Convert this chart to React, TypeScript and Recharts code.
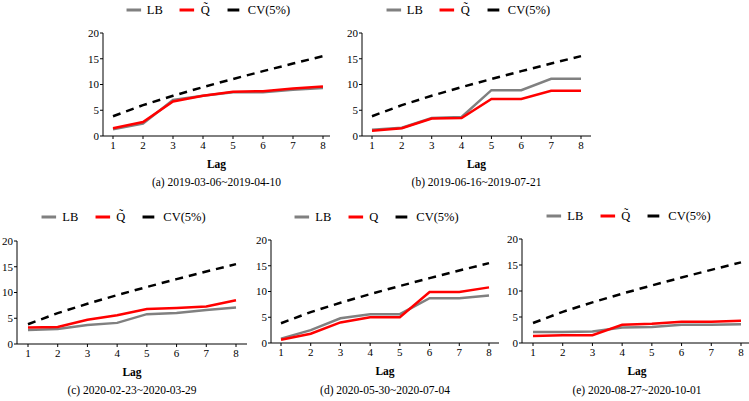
import React from 'react';
import { LineChart, Line, XAxis, YAxis } from 'recharts';

const lags = [1, 2, 3, 4, 5, 6, 7, 8];
const yTicks = [0, 5, 10, 15, 20];
// chi-square 5% critical values, same in every panel
const cv5 = [3.84, 5.99, 7.81, 9.49, 11.07, 12.59, 14.07, 15.51];

const lbA = [1.3, 2.4, 7.0, 7.8, 8.5, 8.5, 9.0, 9.3];
const qA = [1.5, 2.7, 6.7, 7.8, 8.6, 8.7, 9.2, 9.6];
const lbB = [1.2, 1.6, 3.5, 3.7, 8.9, 8.9, 11.1, 11.1];
const qB = [1.0, 1.5, 3.4, 3.5, 7.2, 7.2, 8.8, 8.8];
const lbC = [2.7, 2.9, 3.7, 4.1, 5.8, 6.0, 6.6, 7.1];
const qC = [3.2, 3.3, 4.7, 5.6, 6.8, 7.0, 7.3, 8.5];
const lbD = [0.85, 2.5, 4.8, 5.6, 5.6, 8.7, 8.7, 9.2];
const qD = [0.65, 1.8, 4.0, 5.0, 5.0, 9.9, 9.9, 10.8];
const lbE = [2.1, 2.1, 2.2, 3.0, 3.1, 3.5, 3.5, 3.6];
const qE = [1.35, 1.5, 1.5, 3.5, 3.7, 4.1, 4.1, 4.3];

const FONT = '"Liberation Serif", "Times New Roman", serif';

const buildRows = (lb: number[], q: number[]) =>
  lags.map((lag, i) => ({ lag, lb: lb[i], q: q[i], cv: cv5[i] }));

interface PanelProps {
  left: number;
  top: number;
  width: number;
  height: number;
  padL: number;
  padR: number;
  lb: number[];
  q: number[];
  qLabel: string;
  caption: string;
  legendTop: number;
  captionTop: number;
}

const LegendItem = ({ color, dashed, label }: { color: string; dashed?: boolean; label: string }) => (
  <div style={{ display: 'flex', alignItems: 'center', marginRight: 17 }}>
    <svg width={15} height={6} style={{ marginRight: 6 }}>
      <line x1={0} y1={3} x2={dashed ? 12 : 15} y2={3} stroke={color} strokeWidth={3} />
    </svg>
    <span>{label}</span>
  </div>
);

const Panel: React.FC<PanelProps> = ({
  left, top, width, height, padL, padR, lb, q, qLabel, caption, legendTop, captionTop,
}) => {
  const data = buildRows(lb, q);
  const cx = left + width / 2;
  return (
    <>
      <div
        style={{
          position: 'absolute', top: legendTop - 8, left: cx, transform: 'translateX(-50%)',
          display: 'flex', fontSize: 12.5, whiteSpace: 'nowrap', lineHeight: '16px',
        }}
      >
        <LegendItem color="#808080" label="LB" />
        <LegendItem color="#ff0000" label={qLabel} />
        <LegendItem color="#000" dashed label="CV(5%)" />
      </div>
      <div style={{ position: 'absolute', left: left - 40, top: top - 10 }}>
        <LineChart
          width={width + 50}
          height={height + 50}
          data={data}
          margin={{ top: 10, right: 10, left: 0, bottom: 8 }}
        >
          <XAxis
            type="number"
            dataKey="lag"
            domain={[1, 8]}
            ticks={lags}
            padding={{ left: padL, right: padR }}
            height={32}
            tickSize={3}
            tickMargin={2}
            stroke="#000"
            tick={{ fill: '#000', fontSize: 11, fontFamily: FONT }}
            label={{ value: 'Lag', position: 'insideBottom', offset: 0, fill: '#000', fontSize: 11.5, fontFamily: FONT, fontWeight: 'bold' }}
          />
          <YAxis
            domain={[0, 20]}
            ticks={yTicks}
            width={40}
            tickSize={3}
            tickMargin={1}
            stroke="#000"
            tick={{ fill: '#000', fontSize: 11, fontFamily: FONT }}
          />
          <Line dataKey="cv" stroke="#000" strokeWidth={2.5} strokeDasharray="8 6" dot={false} isAnimationActive={false} />
          <Line dataKey="lb" stroke="#808080" strokeWidth={2.5} dot={false} isAnimationActive={false} />
          <Line dataKey="q" stroke="#ff0000" strokeWidth={2.5} dot={false} isAnimationActive={false} />
        </LineChart>
      </div>
      <div
        style={{
          position: 'absolute', top: captionTop - 8, left: cx, transform: 'translateX(-50%)',
          fontSize: 11.5, whiteSpace: 'nowrap', lineHeight: '16px',
        }}
      >
        {caption}
      </div>
    </>
  );
};

export default function App() {
  return (
    <div
      style={{
        position: 'absolute', left: 0, top: 0, width: 749, height: 401,
        background: '#fff', overflow: 'hidden', fontFamily: FONT, color: '#000',
      }}
    >
      <Panel left={103} top={33} width={227} height={103} padL={10} padR={7}
        lb={lbA} q={qA} qLabel={'Q\u0303'} caption="(a) 2019-03-06~2019-04-10"
        legendTop={10} captionTop={182} />
      <Panel left={362} top={33} width={229} height={103} padL={10} padR={10}
        lb={lbB} q={qB} qLabel={'Q\u0303'} caption="(b) 2019-06-16~2019-07-21"
        legendTop={10} captionTop={182} />
      <Panel left={17} top={241} width={230} height={103} padL={11} padR={11}
        lb={lbC} q={qC} qLabel={'Q\u0303'} caption="(c) 2020-02-23~2020-03-29"
        legendTop={217} captionTop={390} />
      <Panel left={271} top={240} width={228} height={103} padL={10} padR={10}
        lb={lbD} q={qD} qLabel="Q" caption="(d) 2020-05-30~2020-07-04"
        legendTop={217} captionTop={390} />
      <Panel left={522} top={239} width={230} height={104} padL={11} padR={11}
        lb={lbE} q={qE} qLabel={'Q\u0303'} caption="(e) 2020-08-27~2020-10-01"
        legendTop={216} captionTop={390} />
    </div>
  );
}
